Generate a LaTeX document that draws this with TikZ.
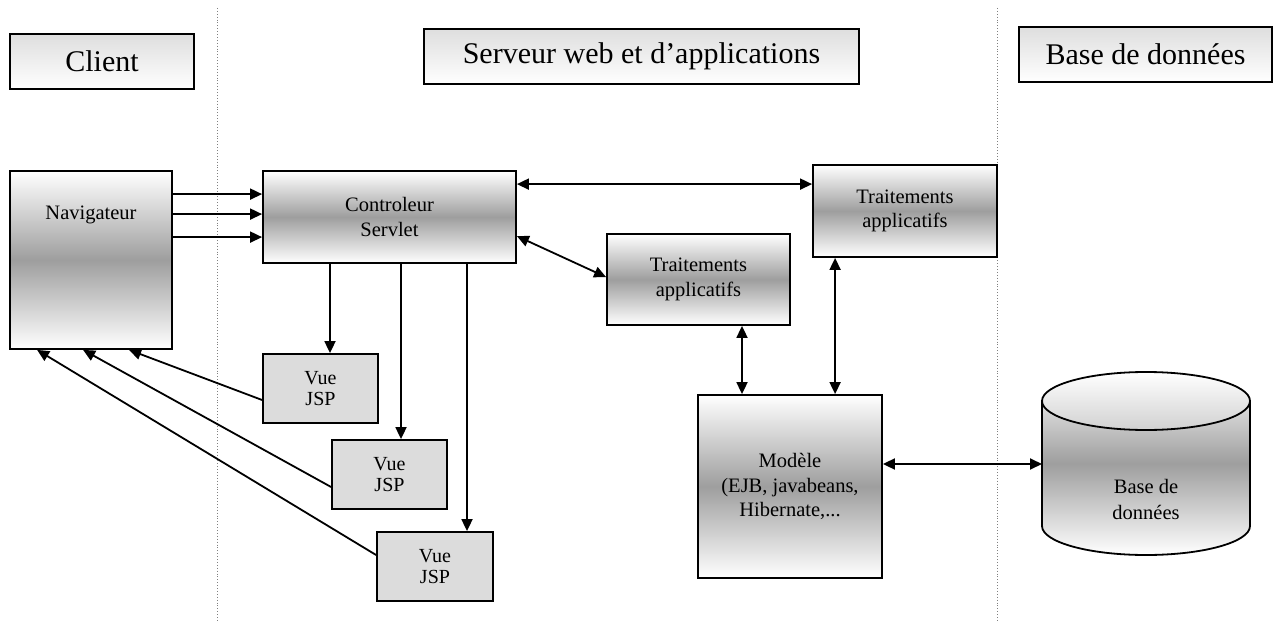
\documentclass[tikz,border=0pt]{standalone}
\usepackage{fontspec}
\setmainfont{Liberation Serif}
\usetikzlibrary{arrows.meta,calc}
\definecolor{midgray}{RGB}{158,158,158}
\definecolor{vuegray}{RGB}{220,220,220}
\definecolor{hdrgray}{RGB}{222,222,222}
\begin{document}
\begin{tikzpicture}[x=1pt,y=-1pt,
  box/.style={draw=black, line width=1.8pt, top color=white, bottom color=white, middle color=midgray,
    align=center, inner sep=0pt, font=\fontsize{20.5}{24.5}\selectfont},
  vue/.style={draw=black, line width=1.8pt, fill=vuegray, align=center, inner sep=0pt,
    minimum width=115pt, minimum height=69pt, font=\fontsize{20}{21.5}\selectfont},
  hdr/.style={draw=black, line width=2pt, top color=hdrgray, bottom color=white,
    inner sep=0pt, minimum height=55pt, font=\fontsize{30}{32}\selectfont},
  lbl/.style={align=center, inner sep=0pt, font=\fontsize{20.5}{26}\selectfont},
  sep/.style={draw=gray, dotted, line width=0.9pt},
  arr/.style={line width=1.8pt, -{Triangle[length=12pt,width=11pt]}},
  dbl/.style={line width=1.8pt, {Triangle[length=12pt,width=11pt]}-{Triangle[length=12pt,width=11pt]}}
]
\useasboundingbox (0,0) rectangle (1277,623);

% separators
\draw[sep] (217,8) -- (217,623);
\draw[sep] (997,8) -- (997,623);

% headers
\node[hdr, minimum width=184pt] (hClient) at (102,61.5) {Client};
\node[hdr, minimum width=435pt] (hServ) at (641.5,56.5) {Serveur web et d'applications};
\node[hdr, minimum width=253pt] (hDB) at (1145.5,54.5) {Base de données};

% main boxes
\node[box, minimum width=162pt, minimum height=178pt] (nav) at (91,260) {};
\node[lbl] (navtxt) at (91,215) {Navigateur};
\node[box, minimum width=253pt, minimum height=92pt] (ctrl) at (389.5,217) {Controleur\\Servlet};
\node[box, minimum width=184pt, minimum height=92pt] (tr2) at (905,211) {Traitements\\applicatifs};
\node[box, minimum width=183pt, minimum height=91pt] (tr1) at (698.5,279.5) {Traitements\\applicatifs};
\node[box, minimum width=184pt, minimum height=183pt] (mod) at (790,486.5) {Modèle\\(EJB, javabeans,\\Hibernate,...};

% views
\node[vue] (vue1) at (320.5,388.5) {Vue\\JSP};
\node[vue] (vue2) at (389.5,474.5) {Vue\\JSP};
\node[vue, minimum width=116pt] (vue3) at (435,566.5) {Vue\\JSP};

% database cylinder
\shade[top color=white, bottom color=white, middle color=midgray]
  (1042,401) -- (1042,526) arc[start angle=180,end angle=360,x radius=104pt,y radius=29pt]
  -- (1250,401) arc[start angle=0,end angle=180,x radius=104pt,y radius=29pt] -- cycle;
\draw[line width=1.8pt]
  (1042,401) -- (1042,526) arc[start angle=180,end angle=360,x radius=104pt,y radius=29pt]
  -- (1250,401);
\draw[line width=1.8pt, top color=white, bottom color=black!18] (1146,401) ellipse[x radius=104pt,y radius=29pt];
\node[lbl] (dbtxt) at (1146,499) {Base de\\données};
\coordinate (dbW) at (1042,464);

% navigator -> controller
\draw[arr] ([yshift=-24pt]nav.north east) coordinate (a1) -- (ctrl.west |- a1);
\draw[arr] ([yshift=-44pt]nav.north east) coordinate (a2) -- (ctrl.west |- a2);
\draw[arr] ([yshift=-67pt]nav.north east) coordinate (a3) -- (ctrl.west |- a3);

% controller <-> treatments
\draw[dbl] ([yshift=-14pt]ctrl.north east) coordinate (c1) -- (tr2.west |- c1);
\draw[dbl] ([yshift=-66pt]ctrl.north east) -- ([yshift=-44pt]tr1.north west);

% controller -> views
\coordinate (v1t) at ([xshift=9.5pt]vue1.north);
\coordinate (v2t) at ([xshift=11.5pt]vue2.north);
\coordinate (v3t) at ([xshift=32pt]vue3.north);
\draw[arr] (ctrl.south -| v1t) -- (v1t);
\draw[arr] (ctrl.south -| v2t) -- (v2t);
\draw[arr] (ctrl.south -| v3t) -- (v3t);

% views -> navigator
\draw[arr] ([yshift=-11.5pt]vue1.west) -- ([xshift=120pt]nav.south west);
\draw[arr] ([yshift=-12.5pt]vue2.west) -- ([xshift=74pt]nav.south west);
\draw[arr] ([yshift=11.5pt]vue3.west) -- ([xshift=28pt]nav.south west);

% treatments <-> model
\draw[dbl] ([xshift=43.5pt]tr1.south) coordinate (t1s) -- (mod.north -| t1s);
\draw[dbl] ([xshift=23pt]tr2.south west) coordinate (t2s) -- (mod.north -| t2s);

% model <-> database
\draw[dbl] (mod.east |- dbW) -- (dbW);
\end{tikzpicture}
\end{document}
